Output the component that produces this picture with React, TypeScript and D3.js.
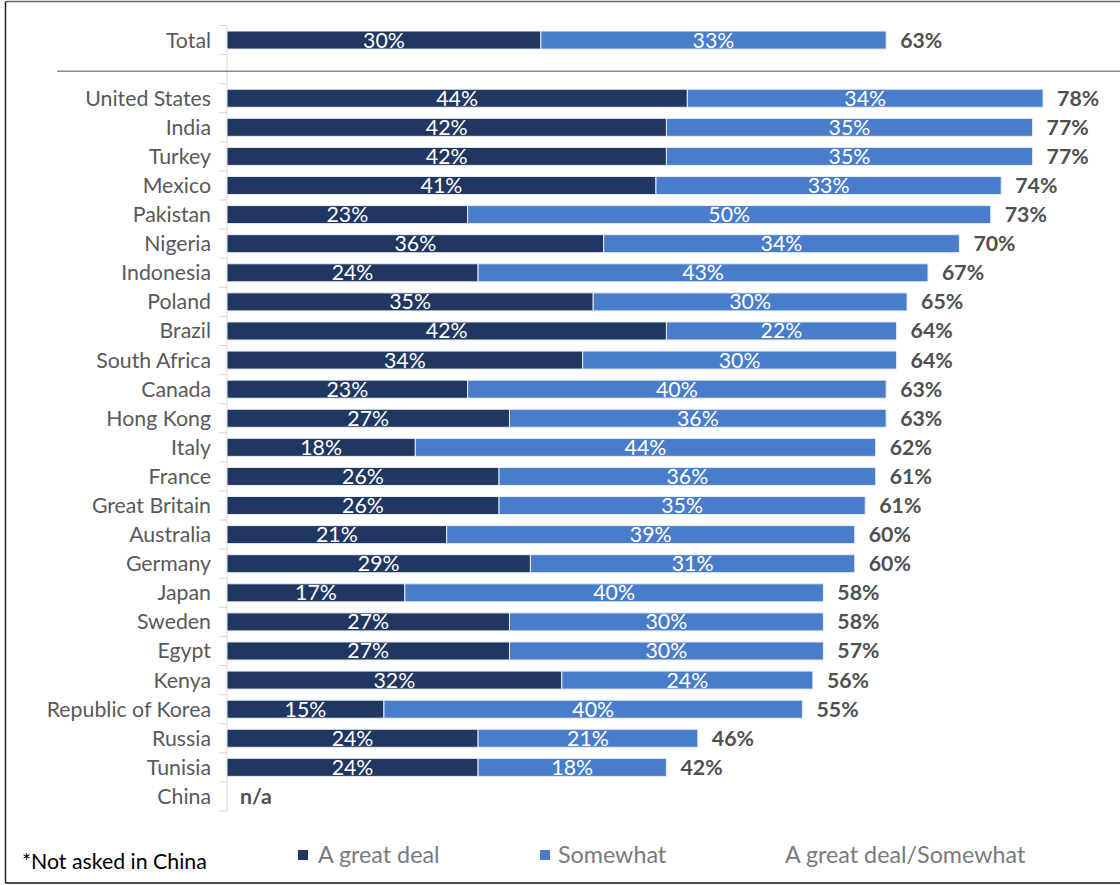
import React from "react";
import * as d3 from "d3";

const categories = [
  "Total", "", "United States", "India", "Turkey", "Mexico", "Pakistan", "Nigeria",
  "Indonesia", "Poland", "Brazil", "South Africa", "Canada", "Hong Kong", "Italy",
  "France", "Great Britain", "Australia", "Germany", "Japan", "Sweden", "Egypt",
  "Kenya", "Republic of Korea", "Russia", "Tunisia", "China",
];
const greatDeal: (number | null)[] = [
  30, null, 44, 42, 42, 41, 23, 36, 24, 35, 42, 34, 23, 27, 18, 26, 26, 21, 29, 17, 27, 27, 32, 15, 24, 24, null,
];
const somewhat: (number | null)[] = [
  33, null, 34, 35, 35, 33, 50, 34, 43, 30, 22, 30, 40, 36, 44, 36, 35, 39, 31, 40, 30, 30, 24, 40, 21, 18, null,
];
const combined: (number | null)[] = [
  63, null, 78, 77, 77, 74, 73, 70, 67, 65, 64, 64, 63, 63, 62, 61, 61, 60, 60, 58, 58, 57, 56, 55, 46, 42, null,
];
const xTicks = [0, 80];
const seriesNames = ["A great deal", "Somewhat", "A great deal/Somewhat"];
const footnote = "*Not asked in China";

const W = 1120;
const H = 885;
const FONT = "Lato, 'Open Sans', sans-serif";
const DARK = "#1f3761";
const LIGHT = "#4a7dc9";
const GRAY = "#595959";

export default function App() {
  const x = d3.scaleLinear().domain(xTicks as [number, number]).range([227, 1064]);
  const y = d3
    .scaleBand<string>()
    .domain(categories.map((c, i) => `${i}`))
    .range([25.5, 811])
    .paddingInner(0.38)
    .paddingOuter(0.19);
  const step = y.step();
  const bw = y.bandwidth();
  const fs = 21.3;
  const lfs = 23.3;

  return (
    <svg
      width={W}
      height={H}
      style={{ position: "absolute", left: 0, top: 0, background: "#fff" }}
      fontFamily={FONT}
    >
      <rect x={0} y={0} width={W} height={H} fill="#fff" />
      {/* border */}
      <line x1={5.5} y1={1.5} x2={W} y2={1.5} stroke="#666" strokeWidth={1.5} />
      <line x1={5.5} y1={1.5} x2={5.5} y2={883} stroke="#222" strokeWidth={1.5} />
      <line x1={5.5} y1={883} x2={W} y2={883} stroke="#111" strokeWidth={1.5} />

      {/* axis */}
      <line x1={x(0)} y1={y("0")! - (step - bw) / 2} x2={x(0)} y2={y(`${categories.length - 1}`)! + bw + (step - bw) / 2} stroke="#d9d9d9" strokeWidth={1} />
      {categories.map((_, i) => {
        const top = y(`${i}`)! - (step - bw) / 2;
        return <line key={`t${i}`} x1={x(0) - 8} x2={x(0)} y1={top} y2={top} stroke="#d9d9d9" strokeWidth={1} />;
      })}
      <line x1={x(0) - 8} x2={x(0)} y1={811} y2={811} stroke="#d9d9d9" strokeWidth={1} />

      {/* separator */}
      <line x1={57} x2={W} y1={y("1")! + bw / 2 + 2} y2={y("1")! + bw / 2 + 2} stroke="#8c8c8c" strokeWidth={1.5} />

      {categories.map((c, i) => {
        const yy = y(`${i}`)!;
        const cy = yy + bw / 2;
        const g = greatDeal[i];
        const s = somewhat[i];
        const tot = combined[i];
        return (
          <g key={`r${i}`}>
            {c && (
              <text x={211} y={cy} dy="0.35em" textAnchor="end" fill={GRAY} fontSize={fs}>
                {c}
              </text>
            )}
            {g != null && (
              <>
                <rect x={x(0)} y={yy} width={x(g) - x(0)} height={bw} fill={DARK} stroke="#e8eef8" strokeWidth={1} />
                <text x={(x(0) + x(g)) / 2} y={cy} dy="0.35em" textAnchor="middle" fill="#fff" fontSize={fs}>
                  {g}%
                </text>
              </>
            )}
            {g != null && s != null && (
              <>
                <rect x={x(g)} y={yy} width={x(g + s) - x(g)} height={bw} fill={LIGHT} stroke="#e8eef8" strokeWidth={1} />
                <text x={(x(g) + x(g + s)) / 2} y={cy} dy="0.35em" textAnchor="middle" fill="#fff" fontSize={fs}>
                  {s}%
                </text>
              </>
            )}
            {tot != null && g != null && s != null && (
              <text x={x(g + s) + 14} y={cy} dy="0.35em" fill="#505050" fontSize={fs} fontWeight="bold">
                {tot}%
              </text>
            )}
            {c === "China" && (
              <text x={x(0) + 13} y={cy} dy="0.35em" fill="#505050" fontSize={fs} fontWeight="bold">
                n/a
              </text>
            )}
          </g>
        );
      })}

      {/* legend */}
      <text x={22} y={862} dy="0.35em" fill="#000" fontSize={fs}>
        {footnote}
      </text>
      <rect x={298} y={850} width={10} height={10} fill={DARK} />
      <text x={318} y={855} dy="0.35em" fill="#7a7a7a" fontSize={lfs}>
        {seriesNames[0]}
      </text>
      <rect x={540} y={850} width={10} height={10} fill={LIGHT} />
      <text x={558} y={855} dy="0.35em" fill="#7a7a7a" fontSize={lfs}>
        {seriesNames[1]}
      </text>
      <text x={785} y={855} dy="0.35em" fill="#7a7a7a" fontSize={lfs}>
        {seriesNames[2]}
      </text>
    </svg>
  );
}
